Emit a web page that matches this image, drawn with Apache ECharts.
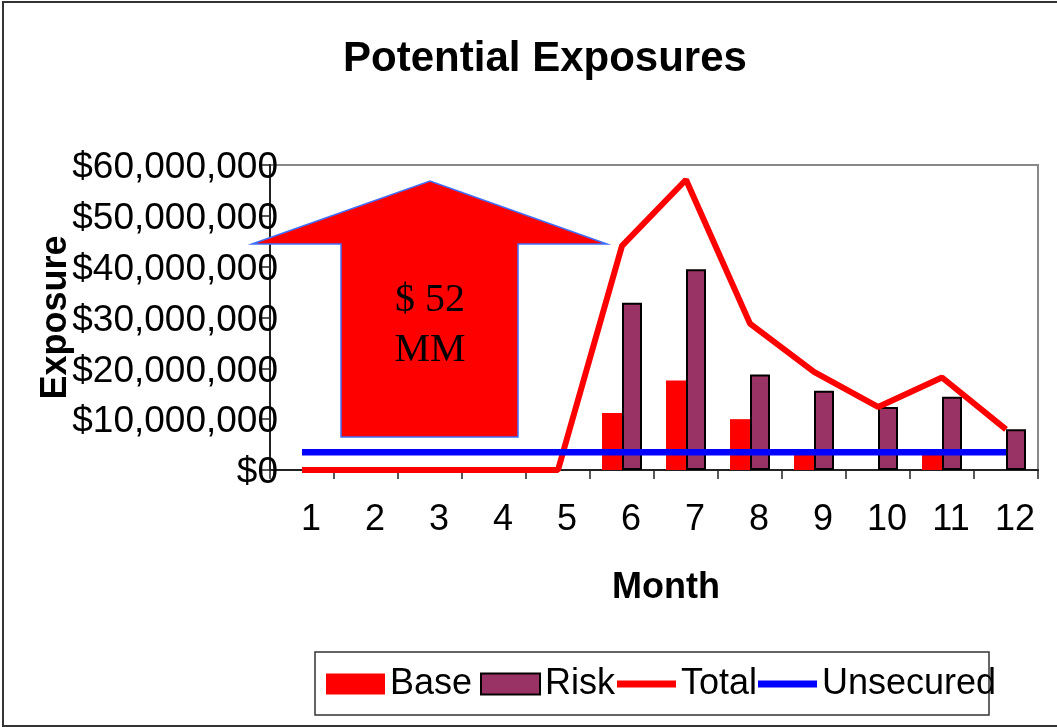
<!DOCTYPE html>
<html>
<head>
<meta charset="utf-8">
<title>Potential Exposures</title>
<script src="https://cdn.jsdelivr.net/npm/echarts@6/dist/echarts.min.js"></script>
<style>
  html, body { margin: 0; padding: 0; background: #ffffff; }
  #chart { width: 1057px; height: 727px; }
</style>
</head>
<body>
<div id="chart"></div>
<script>
// Month categories
const months = ['1', '2', '3', '4', '5', '6', '7', '8', '9', '10', '11', '12'];

// Exposure by month, in dollars
const base      = [0, 0, 0, 0, 0, 11200000, 17600000, 10000000, 3700000, 0, 3800000, 0];
const risk      = [0, 0, 0, 0, 0, 32900000, 39500000, 18800000, 15600000, 12400000, 14400000, 8000000];
const total     = [0, 0, 0, 0, 0, 44100000, 57100000, 28800000, 19300000, 12400000, 18200000, 8000000];
const unsecured = [3500000, 3500000, 3500000, 3500000, 3500000, 3500000, 3500000, 3500000, 3500000, 3500000, 3500000, 3500000];

// Value-axis tick labels, bottom to top
const yTickLabels = ['$0', '$10,000,000', '$20,000,000', '$30,000,000', '$40,000,000', '$50,000,000', '$60,000,000'];

// Callout text inside the arrow
const calloutText = '$ 52\nMM';

const SANS = 'Liberation Sans, Arial, Helvetica, sans-serif';
const SERIF = 'Liberation Serif, Times New Roman, serif';

// Zero-height bars draw nothing
const asBars = arr => arr.map(v => (v === 0 ? '-' : v));

const chart = echarts.init(document.getElementById('chart'), null, { renderer: 'canvas' });

const legendCommon = {
  top: 666,
  itemWidth: 59,
  itemHeight: 21,
  itemGap: 0,
  padding: 0,
  icon: 'rect',
  textStyle: { fontFamily: SANS, fontSize: 36, color: '#000' },
  selectedMode: false
};

chart.setOption({
  backgroundColor: '#ffffff',
  animation: false,
  title: {
    text: 'Potential Exposures',
    left: 540,
    textAlign: 'center',
    top: 33,
    textStyle: { fontFamily: SANS, fontSize: 42, fontWeight: 'bold', color: '#000' }
  },
  grid: {
    left: 270, top: 165, right: 19, bottom: 257,
    show: true,
    borderColor: '#888888',
    borderWidth: 2,
    backgroundColor: '#ffffff'
  },
  legend: [
    Object.assign({}, legendCommon, { left: 326, data: ['Base'] }),
    Object.assign({}, legendCommon, { left: 480, data: ['Risk'] }),
    Object.assign({}, legendCommon, { left: 617, itemHeight: 7, data: ['Total'] }),
    Object.assign({}, legendCommon, { left: 758, itemHeight: 7, data: ['Unsecured'] })
  ],
  xAxis: {
    type: 'category',
    data: months,
    boundaryGap: true,
    name: 'Month',
    nameLocation: 'middle',
    nameGap: 100,
    nameMoveOverlap: false,
    nameTextStyle: { fontFamily: SANS, fontSize: 36, fontWeight: 'bold', color: '#000', padding: [0, 0, 0, 24] },
    axisLine: { show: true, lineStyle: { color: '#222', width: 2 } },
    axisTick: { show: true, length: 9, lineStyle: { color: '#222', width: 1.5 } },
    axisLabel: {
      fontFamily: SANS, fontSize: 36, color: '#000',
      margin: 32, padding: [0, 0, 0, 18]
    },
    splitLine: { show: false }
  },
  yAxis: {
    type: 'value',
    min: 0,
    max: 60000000,
    interval: 10000000,
    name: 'Exposure',
    nameLocation: 'middle',
    nameRotate: 90,
    nameGap: 196,
    nameMoveOverlap: false,
    nameTextStyle: { fontFamily: SANS, fontSize: 36, fontWeight: 'bold', color: '#000' },
    axisLine: { show: true, lineStyle: { color: '#222', width: 2 } },
    axisTick: { show: true, length: 8, lineStyle: { color: '#222', width: 1.5 } },
    axisLabel: {
      color: '#000',
      margin: -8,
      formatter: (v) => '{t|' + yTickLabels[Math.round(v / 10000000)] + '}',
      rich: {
        t: { fontFamily: SANS, fontSize: 37, color: '#000', padding: [6, 0, 0, 0] }
      }
    },
    splitLine: { show: false }
  },
  series: [
    {
      name: 'Base',
      type: 'bar',
      data: asBars(base),
      barWidth: 20,
      barGap: '0%',
      itemStyle: { color: '#FF0000' }
    },
    {
      name: 'Risk',
      type: 'bar',
      data: asBars(risk),
      barWidth: 20,
      barGap: '0%',
      itemStyle: { color: '#993366', borderColor: '#000000', borderWidth: 2 }
    },
    {
      name: 'Total',
      type: 'line',
      data: total,
      symbol: 'none',
      lineStyle: { color: '#FF0000', width: 6 },
      itemStyle: { color: '#FF0000' },
      z: 3
    },
    {
      name: 'Unsecured',
      type: 'line',
      data: unsecured,
      symbol: 'none',
      lineStyle: { color: '#0000FF', width: 6.5 },
      itemStyle: { color: '#0000FF' },
      z: 4
    }
  ],
  graphic: [
    // outer frame
    {
      type: 'rect',
      shape: { x: 3, y: 2, width: 1080, height: 724 },
      style: { fill: null, stroke: '#333', lineWidth: 2 },
      silent: true, z: 0
    },
    // legend frame
    {
      type: 'rect',
      shape: { x: 315, y: 652, width: 674, height: 63 },
      style: { fill: null, stroke: '#333', lineWidth: 1.5 },
      silent: true, z: 0
    },
    // up arrow callout
    {
      type: 'polygon',
      shape: {
        points: [[252, 244], [430, 181], [607, 244], [518, 244], [518, 437], [341, 437], [341, 244]]
      },
      style: { fill: '#FF0000', stroke: '#3F6FFF', lineWidth: 1.5 },
      silent: true, z: 100
    },
    {
      type: 'text',
      x: 430,
      y: 325,
      style: {
        text: calloutText,
        font: '40px ' + SERIF,
        fill: '#000',
        align: 'center',
        verticalAlign: 'middle',
        lineHeight: 50
      },
      silent: true, z: 101
    }
  ]
});
</script>
</body>
</html>
